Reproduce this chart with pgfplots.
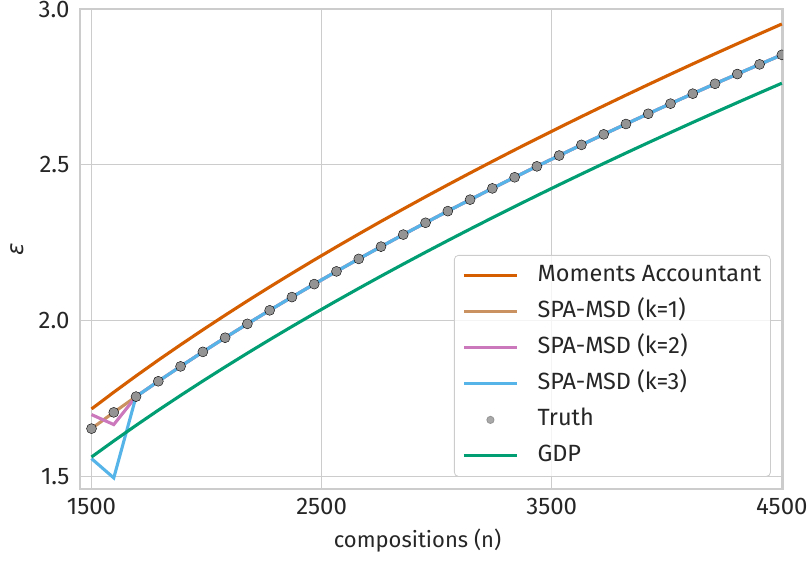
\documentclass[border=0pt]{standalone}
\usepackage{fontspec}
\setmainfont{Fira Sans}
\newfontfamily\dejavu{DejaVu Sans}
\usepackage{pgfplots}
\usepackage{pgfplotstable}
\pgfplotsset{compat=1.18}

\definecolor{maorange}{RGB}{213,94,0}
\definecolor{spaone}{RGB}{202,145,97}
\definecolor{spatwo}{RGB}{204,120,188}
\definecolor{spathree}{RGB}{86,180,233}
\definecolor{truthgray}{RGB}{148,148,148}
\definecolor{gdpgreen}{RGB}{2,158,115}
\definecolor{textgray}{RGB}{38,38,38}
\definecolor{gridgray}{RGB}{204,204,204}

% epsilon against number of compositions
\pgfplotstableread{
n        ma      k1      k2      k3      truth   gdp
1500.00  1.7180  1.6550  1.7000  1.5590  1.6550  1.5640
1596.77  1.7717  1.7071  1.6680  1.4970  1.7071  1.6155
1693.55  1.8239  1.7576  1.7576  1.7576  1.7576  1.6654
1790.32  1.8746  1.8068  1.8068  1.8068  1.8068  1.7141
1887.10  1.9237  1.8545  1.8545  1.8545  1.8545  1.7614
1983.87  1.9717  1.9010  1.9010  1.9010  1.9010  1.8076
2080.65  2.0185  1.9464  1.9464  1.9464  1.9464  1.8527
2177.42  2.0643  1.9908  1.9908  1.9908  1.9908  1.8968
2274.19  2.1090  2.0342  2.0342  2.0342  2.0342  1.9400
2370.97  2.1527  2.0766  2.0766  2.0766  2.0766  1.9823
2467.74  2.1956  2.1182  2.1182  2.1182  2.1182  2.0238
2564.52  2.2376  2.1590  2.1590  2.1590  2.1590  2.0645
2661.29  2.2788  2.1990  2.1990  2.1990  2.1990  2.1045
2758.06  2.3193  2.2383  2.2383  2.2383  2.2383  2.1438
2854.84  2.3590  2.2769  2.2769  2.2769  2.2769  2.1824
2951.61  2.3981  2.3148  2.3148  2.3148  2.3148  2.2204
3048.39  2.4365  2.3521  2.3521  2.3521  2.3521  2.2578
3145.16  2.4743  2.3889  2.3889  2.3889  2.3889  2.2946
3241.94  2.5115  2.4250  2.4250  2.4250  2.4250  2.3309
3338.71  2.5482  2.4606  2.4606  2.4606  2.4606  2.3666
3435.48  2.5843  2.4957  2.4957  2.4957  2.4957  2.4019
3532.26  2.6199  2.5303  2.5303  2.5303  2.5303  2.4367
3629.03  2.6551  2.5645  2.5645  2.5645  2.5645  2.4710
3725.81  2.6897  2.5982  2.5982  2.5982  2.5982  2.5049
3822.58  2.7239  2.6314  2.6314  2.6314  2.6314  2.5384
3919.35  2.7577  2.6642  2.6642  2.6642  2.6642  2.5715
4016.13  2.7910  2.6966  2.6966  2.6966  2.6966  2.6041
4112.90  2.8239  2.7286  2.7286  2.7286  2.7286  2.6365
4209.68  2.8565  2.7603  2.7603  2.7603  2.7603  2.6684
4306.45  2.8886  2.7915  2.7915  2.7915  2.7915  2.7000
4403.23  2.9204  2.8225  2.8225  2.8225  2.8225  2.7312
4500.00  2.9519  2.8530  2.8530  2.8530  2.8530  2.7621
}\epsdata

\begin{document}
\begin{tikzpicture}[x=1pt,y=1pt]
\begin{axis}[
  at={(0pt,0pt)}, anchor=south west,
  width=703pt, height=480pt, scale only axis,
  xmin=1450, xmax=4505, ymin=1.4615, ymax=3.0,
  xtick={1500,2500,3500,4500},
  ytick={1.5,2.0,2.5,3.0},
  /pgf/number format/assume math mode=true,
  xticklabel style={/pgf/number format/1000 sep={}, yshift=-6pt},
  yticklabel style={/pgf/number format/.cd, fixed, fixed zerofill, precision=1, /tikz/.cd, xshift=-7pt},
  tick label style={font=\fontsize{24}{28}\selectfont, text=textgray},
  tick style={draw=none},
  grid=major,
  major grid style={draw=gridgray, line width=1pt},
  axis line style={draw=gridgray, line width=1.2pt},
  clip marker paths=true,
  legend cell align=left,
  legend image code/.code={\draw[#1] (0pt,0pt) -- (53pt,0pt);},
  legend style={
    at={(0.532,0.4875)}, anchor=north west,
    draw=gridgray, line width=0.8pt, rounded corners=4pt,
    fill=white, fill opacity=0.8, text opacity=1,
    font=\fontsize{23.5}{27}\selectfont, text=textgray,
    inner xsep=8pt, inner ysep=9pt,
    row sep=13pt,
    nodes={inner sep=1pt, text height=16pt, text depth=5pt},
    /tikz/every odd column/.style={column sep=18pt},
  },
]
\addplot[maorange, line width=3.1pt, no markers] table[x=n, y=ma] {\epsdata};
\addlegendentry{Moments Accountant}
\addplot[spaone, line width=3.1pt, no markers] table[x=n, y=k1] {\epsdata};
\addlegendentry{SPA-MSD (k=1)}
\addplot[spatwo, line width=3.1pt, no markers] table[x=n, y=k2] {\epsdata};
\addlegendentry{SPA-MSD (k=2)}
\addplot[spathree, line width=3.1pt, no markers] table[x=n, y=k3] {\epsdata};
\addlegendentry{SPA-MSD (k=3)}
\addplot[only marks, mark=*, mark size=5pt,
  mark options={draw=none, fill=truthgray},
  legend image code/.code={\fill[truthgray] (26.5pt,0pt) circle (3.6pt);}]
  table[x=n, y=truth] {\epsdata};
\addlegendentry{Truth}
\addplot[gdpgreen, line width=3.1pt, no markers] table[x=n, y=gdp] {\epsdata};
\addlegendentry{GDP}
\end{axis}
\node[anchor=base, text=textgray, font=\fontsize{22}{26}\selectfont] at (337.5pt,-58pt) {compositions (n)};
\node[rotate=90, text=textgray, font=\fontsize{23}{26}\selectfont] at (-63pt,240pt) {\dejavu\itshape ε};
\pgfresetboundingbox
\path[use as bounding box] (-80pt,-74pt) rectangle (731pt,489pt);
\end{tikzpicture}
\end{document}
